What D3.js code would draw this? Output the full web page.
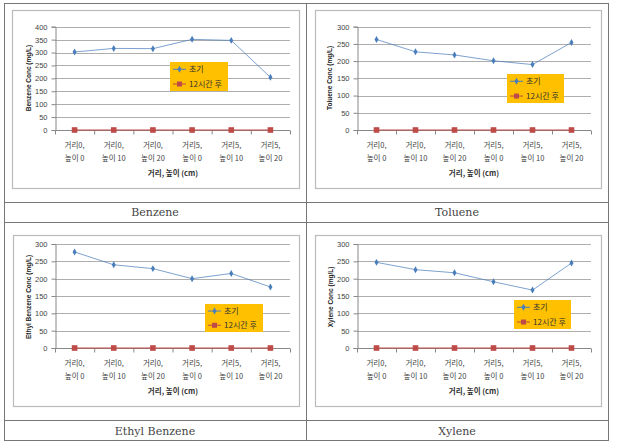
<!DOCTYPE html>
<html><head><meta charset="utf-8">
<script src="https://cdn.jsdelivr.net/npm/d3@7/dist/d3.min.js"></script>
<style>body{margin:0;background:#fff}svg{display:block}</style>
</head><body>
<script>
// ---- data ----
const categoryLine1 = ["거리0,", "거리0,", "거리0,", "거리5,", "거리5,", "거리5,"];
const categoryLine2 = ["높이 0", "높이 10", "높이 20", "높이 0", "높이 10", "높이 20"];
const benzeneInitial = [302, 316, 315, 351, 347, 204];
const tolueneInitial = [263, 227, 218, 201, 190, 254];
const ethylBenzeneInitial = [277, 240, 229, 200, 215, 176];
const xyleneInitial = [247, 226, 217, 191, 167, 245];
const after12h = [0, 0, 0, 0, 0, 0];
const seriesNames = ["초기", "12시간 후"];
const yTicks400 = [0, 50, 100, 150, 200, 250, 300, 350, 400];
const yTicks300 = [0, 50, 100, 150, 200, 250, 300];
const captions = ["Benzene", "Toluene", "Ethyl Benzene", "Xylene"];
const yTitles = ["Benzene Conc (mg/L)", "Toluene Conc (mg/L)", "Ethyl Benzene Conc (mg/L)", "Xylene Conc (mg/L)"];
const xTitle = "거리, 높이 (cm)";

const W = 618, H = 448;
const svg = d3.select("body").append("svg").attr("width", W).attr("height", H);
const KR = "'Noto Sans CJK KR', 'Noto Sans', sans-serif";

// table
const tbl = svg.append("g").attr("fill", "none").attr("stroke", "#777").attr("stroke-width", 1);
tbl.append("rect").attr("x", 4.5).attr("y", 3.5).attr("width", 604).attr("height", 437);
[202.5, 222.5, 420.5].forEach(y => tbl.append("line").attr("x1", 4.5).attr("x2", 608.5).attr("y1", y).attr("y2", y));
tbl.append("line").attr("x1", 306.5).attr("x2", 306.5).attr("y1", 3.5).attr("y2", 440.5);

const panels = [
  {vals: benzeneInitial, ticks: yTicks400, max: 400, frame: [12, 10, 299, 188], px: [55, 290], py: [130, 26.7], leg: [170, 62, 58, 29], yt: [28, 78], xt: [173, 173], cap: [155, 212]},
  {vals: tolueneInitial, ticks: yTicks300, max: 300, frame: [315, 10, 601, 188], px: [357, 591], py: [130, 26.7], leg: [507, 74, 57, 29], yt: [329, 78], xt: [474, 173], cap: [457, 212]},
  {vals: ethylBenzeneInitial, ticks: yTicks300, max: 300, frame: [13, 235, 299, 406], px: [55, 290], py: [348, 244], leg: [205, 304, 58, 28], yt: [28, 297], xt: [173, 391], cap: [155, 431]},
  {vals: xyleneInitial, ticks: yTicks300, max: 300, frame: [315, 235, 601, 406], px: [357, 591], py: [348, 244], leg: [514, 300, 57, 29], yt: [330, 297], xt: [474, 391], cap: [457, 431]}
];

const blue = "#4A7EBB", red = "#BE4B48";

panels.forEach((p, i) => {
  const g = svg.append("g");
  const [fx0, fy0, fx1, fy1] = p.frame;
  g.append("rect").attr("x", fx0 + 0.5).attr("y", fy0 + 0.5).attr("width", fx1 - fx0).attr("height", fy1 - fy0)
    .attr("fill", "#fff").attr("stroke", "#bbb").attr("stroke-width", 1.2);

  const x = d3.scaleBand().domain(d3.range(categoryLine1.length)).range(p.px);
  const y = d3.scaleLinear().domain([0, p.max]).range(p.py);
  const cx = d => x(d) + x.bandwidth() / 2;

  // gridlines
  g.append("g").selectAll("line").data(p.ticks.filter(t => t > 0)).join("line")
    .attr("x1", p.px[0]).attr("x2", p.px[1])
    .attr("y1", d => Math.round(y(d)) + 0.5).attr("y2", d => Math.round(y(d)) + 0.5)
    .attr("stroke", "#999").attr("stroke-width", 0.8);

  // y axis
  const ya = g.append("g").attr("transform", `translate(${p.px[0] + 0.5},0)`)
    .call(d3.axisLeft(y).tickValues(p.ticks).tickSize(4).tickPadding(4));
  ya.select(".domain").attr("stroke", "#888");
  ya.selectAll(".tick line").attr("stroke", "#888");
  ya.selectAll(".tick text").attr("font-family", "Arial, 'Liberation Sans', sans-serif").attr("font-size", 7.5).attr("fill", "#444");

  // x axis line and ticks at boundaries
  const y0 = Math.round(y(0)) + 0.5;
  g.append("line").attr("x1", p.px[0]).attr("x2", p.px[1]).attr("y1", y0).attr("y2", y0).attr("stroke", "#888");
  g.append("g").selectAll("line").data(d3.range(categoryLine1.length + 1)).join("line")
    .attr("x1", d => p.px[0] + d * x.bandwidth() + 0.5).attr("x2", d => p.px[0] + d * x.bandwidth() + 0.5)
    .attr("y1", y0).attr("y2", y0 + 4).attr("stroke", "#888");

  // category labels
  const lab = g.append("g").selectAll("text").data(d3.range(categoryLine1.length)).join("text")
    .attr("x", cx).attr("y", y0).attr("text-anchor", "middle")
    .attr("font-family", KR).attr("font-size", 7.5).attr("fill", "#444");
  lab.append("tspan").attr("x", cx).attr("dy", 17).text(d => categoryLine1[d]);
  lab.append("tspan").attr("x", cx).attr("dy", 13).text(d => categoryLine2[d]);

  // axis titles
  g.append("text").attr("x", p.xt[0]).attr("y", p.xt[1] + 3).attr("text-anchor", "middle")
    .attr("font-family", KR).attr("font-size", 7.5).attr("font-weight", "bold").attr("fill", "#333").text(xTitle);
  g.append("text").attr("transform", `translate(${p.yt[0] + 2.5},${p.yt[1]}) rotate(-90)`).attr("text-anchor", "middle")
    .attr("font-family", "Arial, 'Liberation Sans', sans-serif").attr("font-size", 6.5).attr("font-weight", "bold").attr("fill", "#222").text(yTitles[i]);

  // series lines
  const line = d3.line().x((d, j) => cx(j)).y(d => y(d));
  g.append("path").datum(after12h).attr("d", line).attr("fill", "none").attr("stroke", red).attr("stroke-width", 1);
  g.append("path").datum(p.vals).attr("d", line).attr("fill", "none").attr("stroke", blue).attr("stroke-width", 0.9).attr("opacity", 0.8);
  const diamond = d3.symbol().type(d3.symbolDiamond).size(14);
  g.append("g").selectAll("path").data(p.vals).join("path")
    .attr("transform", (d, j) => `translate(${cx(j)},${y(d)})`).attr("d", diamond).attr("fill", blue);
  g.append("g").selectAll("rect").data(after12h).join("rect")
    .attr("x", (d, j) => cx(j) - 2.8).attr("y", d => y(d) - 2.8).attr("width", 5.6).attr("height", 5.6).attr("fill", red);

  // legend
  const [lx, ly, lw, lh] = p.leg;
  const lg = g.append("g");
  lg.append("rect").attr("x", lx).attr("y", ly).attr("width", lw).attr("height", lh).attr("fill", "#FFC000");
  const rows = [ly + lh * 0.25, ly + lh * 0.76];
  lg.append("line").attr("x1", lx + 3).attr("x2", lx + 16).attr("y1", rows[0]).attr("y2", rows[0]).attr("stroke", blue);
  lg.append("path").attr("transform", `translate(${lx + 9.5},${rows[0]})`).attr("d", diamond).attr("fill", blue);
  lg.append("line").attr("x1", lx + 3).attr("x2", lx + 16).attr("y1", rows[1]).attr("y2", rows[1]).attr("stroke", red);
  lg.append("rect").attr("x", lx + 7).attr("y", rows[1] - 2.5).attr("width", 5).attr("height", 5).attr("fill", red);
  seriesNames.forEach((s, k) => lg.append("text").attr("x", lx + 19).attr("y", rows[k] + 3)
    .attr("font-family", KR).attr("font-size", 8).attr("fill", "#333").text(s));

  // caption
  svg.append("text").attr("x", p.cap[0]).attr("y", p.cap[1] + 4).attr("text-anchor", "middle")
    .attr("font-family", "'DejaVu Serif', 'Liberation Serif', serif").attr("font-size", 11).attr("fill", "#444").text(captions[i]);
});
</script>
</body></html>
